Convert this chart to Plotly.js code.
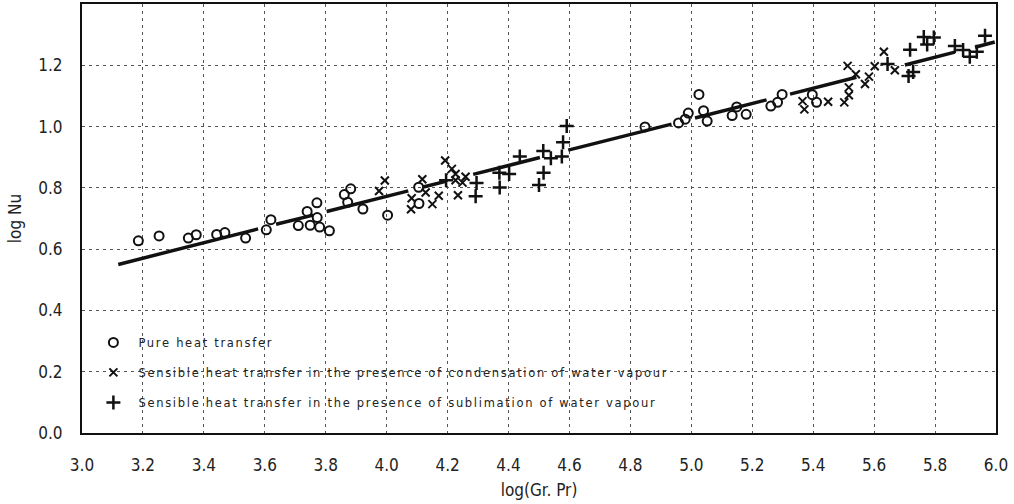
<!DOCTYPE html>
<html>
<head>
<meta charset="utf-8">
<script src="https://cdn.plot.ly/plotly-3.0.1.min.js"></script>
<style>
html,body{margin:0;padding:0;background:#fff;}
#chart{width:1014px;height:504px;}
.legendtext{letter-spacing:1.7px;}
</style>
</head>
<body>
<div id="chart"></div>
<script>
// Pure heat transfer (circles)
const pureX = [3.185,3.253,3.349,3.375,3.442,3.469,3.537,3.605,3.620,3.710,3.739,3.749,3.771,3.772,3.780,3.812,3.861,3.882,3.872,3.922,4.003,4.105,4.106,4.848,4.958,4.980,4.990,5.025,5.040,5.052,5.134,5.149,5.180,5.261,5.283,5.298,5.397,5.411];
const pureY = [0.627,0.643,0.636,0.647,0.648,0.654,0.636,0.663,0.696,0.677,0.723,0.678,0.751,0.703,0.672,0.660,0.778,0.797,0.753,0.731,0.711,0.802,0.749,0.999,1.012,1.024,1.044,1.105,1.052,1.018,1.036,1.064,1.040,1.067,1.079,1.105,1.104,1.079];

// Sensible heat transfer with condensation (x)
const condX = [3.994,3.975,4.082,4.080,4.117,4.128,4.150,4.171,4.192,4.214,4.226,4.226,4.234,4.249,4.259,5.365,5.371,5.449,5.502,5.513,5.517,5.517,5.540,5.570,5.583,5.602,5.632,5.668];
const condY = [0.824,0.790,0.766,0.730,0.828,0.785,0.747,0.774,0.889,0.862,0.845,0.825,0.776,0.817,0.836,1.083,1.056,1.081,1.079,1.198,1.102,1.128,1.171,1.139,1.163,1.197,1.244,1.184];

// Sensible heat transfer with sublimation (+)
const sublX = [4.195,4.295,4.292,4.370,4.371,4.402,4.437,4.500,4.515,4.514,4.539,4.575,4.579,4.591,5.644,5.718,5.713,5.728,5.763,5.774,5.796,5.865,5.892,5.914,5.937,5.964];
const sublY = [0.825,0.816,0.773,0.849,0.801,0.845,0.902,0.809,0.849,0.920,0.897,0.902,0.949,1.002,1.204,1.251,1.165,1.178,1.292,1.268,1.291,1.263,1.250,1.228,1.244,1.296];

// Correlation line (drawn broken, as in the original)
const fitX = [3.119,3.578,null,3.637,3.759,null,3.803,4.071,null,4.120,4.197,null,4.284,4.503,null,4.596,4.935,null,5.012,5.247,null,5.324,5.542,null,5.701,5.865,null,5.931,5.996];
const fitY = [0.550,0.666,null,0.681,0.711,null,0.723,0.790,null,0.803,0.822,null,0.844,0.899,null,0.923,1.008,null,1.028,1.087,null,1.106,1.161,null,1.201,1.243,null,1.259,1.276];

const xTicks = [3.0,3.2,3.4,3.6,3.8,4.0,4.2,4.4,4.6,4.8,5.0,5.2,5.4,5.6,5.8,6.0];
const yTicks = [0.0,0.2,0.4,0.6,0.8,1.0,1.2];

const legendNames = [
  'Pure heat transfer',
  'Sensible heat transfer in the presence of condensation of water vapour',
  'Sensible heat transfer in the presence of sublimation of water vapour'
];

const ink = '#111';
const txtFont = 'DejaVu Sans Condensed, Liberation Sans Narrow, DejaVu Sans, sans-serif';

const traces = [
  {x: fitX, y: fitY, mode: 'lines', line: {color: ink, width: 3.5}, connectgaps: false, showlegend: false, hoverinfo: 'skip'},
  {x: pureX, y: pureY, mode: 'markers', name: legendNames[0], legendgroup: 'a',
   marker: {symbol: 'circle-open', size: 9, color: ink, line: {color: ink, width: 2}}},
  {x: condX, y: condY, mode: 'markers', name: legendNames[1], legendgroup: 'b',
   marker: {symbol: 'x-thin-open', size: 8, color: ink, line: {color: ink, width: 2}}},
  {x: sublX, y: sublY, mode: 'markers', name: legendNames[2], legendgroup: 'c',
   marker: {symbol: 'cross-thin-open', size: 10, color: ink, line: {color: ink, width: 2.5}}}
];

const layout = {
  width: 1014, height: 504,
  margin: {l: 82, r: 18, t: 4, b: 71},
  paper_bgcolor: '#fff', plot_bgcolor: '#fff',
  font: {family: txtFont, color: '#222', size: 17},
  showlegend: true,
  legend: {
    x: 0.007, y: 0.245, xanchor: 'left', yanchor: 'top',
    bgcolor: 'rgba(0,0,0,0)', borderwidth: 0,
    font: {family: 'DejaVu Sans, sans-serif', size: 11.5, color: '#222'},
    traceorder: 'grouped', tracegroupgap: 11, itemwidth: 40
  },
  xaxis: {
    range: [3.0, 6.0], tickvals: xTicks, tickformat: '.1f',
    showline: true, linecolor: ink, linewidth: 2, mirror: true,
    showgrid: true, gridcolor: '#555', gridwidth: 1, griddash: '3px,4px',
    zeroline: false, ticks: '', ticklabelstandoff: 16,
    tickfont: {family: txtFont, size: 17, color: '#222'},
    title: {text: 'log(Gr. Pr)', font: {family: txtFont, size: 17, color: '#222'}, standoff: 10}
  },
  yaxis: {
    range: [0, 1.4], tickvals: yTicks, tickformat: '.1f',
    showline: true, linecolor: ink, linewidth: 2, mirror: true,
    showgrid: true, gridcolor: '#555', gridwidth: 1, griddash: '3px,4px',
    zeroline: false, ticks: '', ticklabelstandoff: 14,
    tickfont: {family: txtFont, size: 17, color: '#222'},
    title: {text: 'log Nu', font: {family: txtFont, size: 17, color: '#222'}, standoff: 12}
  }
};

Plotly.newPlot('chart', traces, layout, {displayModeBar: false, staticPlot: true});
</script>
</body>
</html>
